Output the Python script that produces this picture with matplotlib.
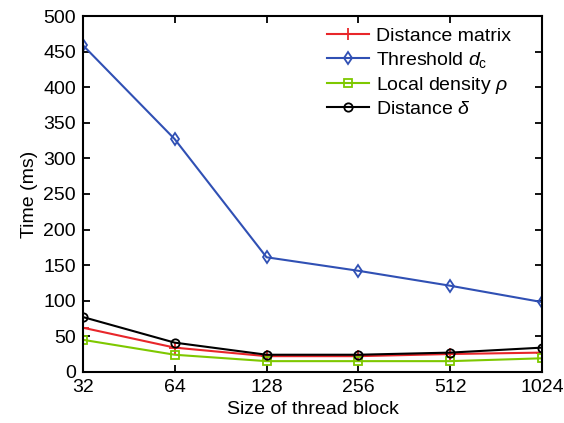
import matplotlib.pyplot as plt
import numpy as np

plt.rcParams['font.family'] = ['Liberation Sans', 'DejaVu Sans']
plt.rcParams['mathtext.fontset'] = 'custom'
plt.rcParams['mathtext.it'] = 'Liberation Sans:italic'
plt.rcParams['mathtext.rm'] = 'Liberation Sans'

block_sizes = ['32', '64', '128', '256', '512', '1024']
dist_matrix = [62, 34, 22, 22, 25, 27]
threshold_dc = [459, 327, 161, 142, 121, 98]
local_density = [45, 24, 15, 15, 15, 19]
distance_delta = [77, 41, 24, 24, 27, 34]

x = np.arange(len(block_sizes))

fig = plt.figure(figsize=(5.64, 4.23), dpi=100)
ax = fig.add_axes([0.147, 0.121, 0.814, 0.841])

ax.plot(x, dist_matrix, color='#e8262a', marker='+', ms=8, mew=1.3, lw=1.5,
        label='Distance matrix')
ax.plot(x, threshold_dc, color='#3050b4', marker='d', ms=6.5, mfc='none', mew=1.3, lw=1.5,
        label=r'Threshold $d_\mathrm{c}$')
ax.plot(x, local_density, color='#7ec800', marker='s', ms=6, mfc='none', mew=1.3, lw=1.5,
        label=r'Local density $\rho$')
ax.plot(x, distance_delta, color='black', marker='o', ms=6, mfc='none', mew=1.3, lw=1.5,
        label=r'Distance $\delta$')

ax.set_xlim(0, len(x) - 1)
ax.set_ylim(0, 500)
ax.set_xticks(x)
ax.set_xticklabels(block_sizes)
ax.set_yticks(np.arange(0, 501, 50))
ax.tick_params(direction='in', top=True, right=True, labelsize=14, length=5, width=1.3, pad=5)
for s in ax.spines.values():
    s.set_linewidth(1.5)

ax.set_xlabel('Size of thread block', fontsize=14)
ax.set_ylabel('Time (ms)', fontsize=14)
ax.legend(loc='upper right', bbox_to_anchor=(0.95, 0.99), frameon=False, fontsize=14,
          handlelength=2.2, handletextpad=0.35, borderaxespad=0, labelspacing=0.25)

fig.savefig('out.png', dpi=100)
